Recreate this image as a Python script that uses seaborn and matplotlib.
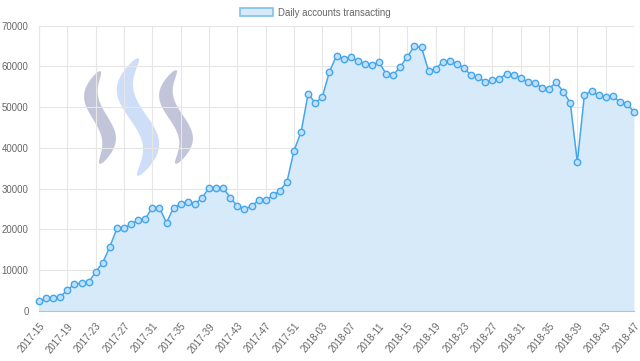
import numpy as np
import pandas as pd
import matplotlib
matplotlib.use("Agg")
import matplotlib.pyplot as plt
import seaborn as sns
from matplotlib.patches import Patch, Polygon

# ---------------- data ----------------
weeks_2017 = [f"2017-{w:02d}" for w in range(15, 53)]
weeks_2018 = [f"2018-{w:02d}" for w in range(1, 48)]
week_labels = weeks_2017 + weeks_2018

accounts = [
    2300, 3000, 3100, 3400, 5100, 6500, 6800, 7000, 9500, 11800,
    15700, 20200, 20200, 21400, 22200, 22600, 25300, 25300, 21600, 25300,
    26300, 26800, 26200, 27700, 30100, 30100, 30100, 27800, 25700, 25000,
    25600, 27200, 27100, 28300, 29500, 31600, 39300, 43900, 53300, 51000,
    52500, 58700, 62600, 61900, 62200, 61400, 60700, 60400, 61000, 58200,
    57900, 59900, 62400, 64900, 64700, 58900, 59400, 61100, 61400, 60700,
    59600, 57800, 57400, 56100, 56600, 57000, 58200, 58000, 57200, 56200,
    55900, 54800, 54500, 56100, 53800, 51100, 36500, 53000, 53900, 52900,
    52600, 52700, 51300, 50700, 48900,
]
series_name = "Daily accounts transacting"
y_ticks = [0, 10000, 20000, 30000, 40000, 50000, 60000, 70000]

df = pd.DataFrame({"idx": np.arange(len(accounts)), "week": week_labels, "value": accounts})

# ---------------- style ----------------
sns.set_style("white")
plt.rcParams["font.family"] = ["Liberation Sans", "DejaVu Sans"]

W, H = 640, 361
fig = plt.figure(figsize=(6.4, 3.61), dpi=100)
left, right, top, bottom = 39, 634, 25.7, 310.7
ax = fig.add_axes([left / W, 1 - bottom / H, (right - left) / W, (bottom - top) / H])
ax.set_facecolor("none")

line_c = "#45a6ec"
fill_c = "#d6eaf9"
grid_c = "#e6e6e6"
text_c = "#666666"
fs = 6.9

# watermark logo (decoration)
def ribbon(xc, ytop, ybot, amp, wmax):
    t = np.linspace(0, 1, 100)
    cx = xc - amp * np.sin(2 * np.pi * t)
    cy = ytop + t * (ybot - ytop)
    w = wmax * np.sin(np.pi * t) ** 0.45 / 2
    lx, rx = cx - w, cx + w
    xs = np.concatenate([lx, rx[::-1]])
    ys = np.concatenate([cy, cy[::-1]])
    return np.column_stack([xs / W, 1 - ys / H])

for (xc, yt, yb, a, wm, col) in [(100, 71, 164, 9, 16, "#bcbfd5"),
                                  (138, 58, 176, 13, 19, "#c9dbf8"),
                                  (176, 70, 164, 10, 16, "#bcbfd5")]:
    ax.add_patch(Polygon(ribbon(xc, yt, yb, a, wm), closed=True, transform=fig.transFigure,
                         facecolor=col, edgecolor="none", alpha=0.9, zorder=0.3))

ax.fill_between(df["idx"], df["value"], 0, color=fill_c, linewidth=0, zorder=1)
sns.lineplot(data=df, x="idx", y="value", ax=ax, color=line_c, linewidth=1.1,
             marker="o", markersize=4.6, markerfacecolor="#bfe0f8",
             markeredgecolor=line_c, markeredgewidth=1.0, zorder=3, clip_on=False)

ax.set_xlim(0, len(accounts) - 1)
ax.set_ylim(0, 70000)
xt = list(range(0, len(accounts), 4))
ax.set_xticks(xt)
ax.set_xticklabels([week_labels[i] for i in xt], rotation=50, ha="right",
                   rotation_mode="anchor", fontsize=fs, color=text_c)
ax.set_yticks(y_ticks)
ax.set_yticklabels([str(v) for v in y_ticks], fontsize=fs, color=text_c)
ax.tick_params(axis="both", length=5, width=0.8, color=grid_c, pad=2.5)
ax.set_axisbelow(True)
ax.grid(True, color=grid_c, linewidth=0.8, zorder=0.5)
ax.set_xlabel("")
ax.set_ylabel("")
for s in ["top", "right"]:
    ax.spines[s].set_visible(False)
ax.spines["left"].set_color(grid_c)
ax.spines["left"].set_linewidth(0.8)
ax.spines["bottom"].set_color("#bfbfbf")
ax.spines["bottom"].set_linewidth(0.8)

handle = Patch(facecolor=fill_c, edgecolor="#7fc1f0", linewidth=1.2, label=series_name)
fig.legend(handles=[handle], loc="center", bbox_to_anchor=(315.4 / W, 1 - 12.7 / H),
           frameon=False, fontsize=fs, labelcolor=text_c, handlelength=3.4,
           handleheight=0.9, handletextpad=0.6, borderpad=0, borderaxespad=0)

fig.savefig("out.png", dpi=100)
